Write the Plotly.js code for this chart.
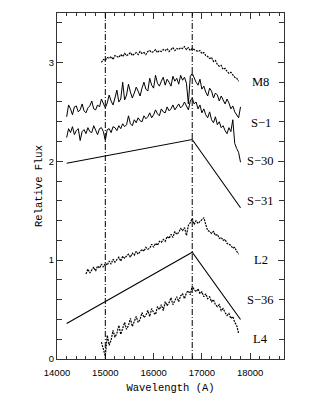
<!DOCTYPE html>
<html>
<head>
<meta charset="utf-8">
<script src="https://cdn.plot.ly/plotly-3.0.1.min.js"></script>
<style>
  html, body { margin: 0; padding: 0; background: white; }
  #spectra { width: 322px; height: 416px; }
</style>
</head>
<body>
<div id="spectra"></div>
<script>
// Spectra (Relative Flux, offset), sampled every 40 A from their start wavelength
var step = 40;

var m8Start = 14920;
var m8Flux = [
  3.00, 3.03, 3.02, 3.05, 3.04, 3.06, 3.03, 3.07, 3.06, 3.05,
  3.08, 3.06, 3.09, 3.07, 3.08, 3.10, 3.07, 3.09, 3.10, 3.08,
  3.11, 3.09, 3.10, 3.08, 3.11, 3.12, 3.10, 3.11, 3.13, 3.10,
  3.12, 3.11, 3.13, 3.12, 3.14, 3.11, 3.13, 3.15, 3.12, 3.14,
  3.13, 3.15, 3.14, 3.16, 3.13, 3.15, 3.12, 3.14, 3.13, 3.12,
  3.11, 3.12, 3.09, 3.10, 3.07, 3.06, 3.04, 3.05, 3.01, 3.02,
  2.98, 2.96, 2.97, 2.93, 2.94, 2.91, 2.89, 2.90, 2.87, 2.85,
  2.84, 2.81
];

var s1Start = 14200;
var s1Flux = [
  2.45, 2.57, 2.53, 2.47, 2.55, 2.56, 2.50, 2.52, 2.58, 2.51,
  2.49, 2.54, 2.56, 2.61, 2.53, 2.52, 2.57, 2.55, 2.63, 2.58,
  2.54, 2.59, 2.67, 2.61, 2.57, 2.64, 2.72, 2.60, 2.63, 2.80,
  2.62, 2.67, 2.78, 2.70, 2.64, 2.69, 2.75, 2.71, 2.66, 2.74,
  2.80, 2.73, 2.71, 2.84, 2.77, 2.74, 2.87, 2.79, 2.76, 2.81,
  2.85, 2.77, 2.83, 2.80, 2.76, 2.86, 2.81, 2.84, 2.78, 2.87,
  2.82, 2.85, 2.79, 2.58, 2.86, 2.89, 2.84, 2.80, 2.77, 2.83,
  2.73, 2.76, 2.70, 2.66, 2.74, 2.71, 2.64, 2.69, 2.67, 2.61,
  2.66, 2.62, 2.58, 2.63, 2.59, 2.53, 2.56, 2.50, 2.47, 2.44,
  2.55
];

var s30Start = 14200;
var s30Flux = [
  2.24, 2.33, 2.29, 2.35, 2.27, 2.31, 2.33, 2.21, 2.30, 2.32,
  2.28, 2.34, 2.30, 2.29, 2.36, 2.31, 2.27, 2.33, 2.34, 2.30,
  2.21, 2.32, 2.33, 2.29, 2.35, 2.34, 2.31, 2.36, 2.33, 2.38,
  2.35, 2.37, 2.46, 2.38, 2.36, 2.42, 2.39, 2.44, 2.41, 2.40,
  2.46, 2.43, 2.45, 2.49, 2.44, 2.47, 2.52, 2.48, 2.46, 2.53,
  2.50, 2.49, 2.55, 2.51, 2.53, 2.57, 2.52, 2.55, 2.58, 2.54,
  2.56, 2.60, 2.55, 2.52, 2.61, 2.64, 2.58, 2.60, 2.53, 2.57,
  2.49, 2.53, 2.47, 2.44, 2.50, 2.42, 2.39, 2.45, 2.37, 2.40,
  2.34, 2.36, 2.31, 2.28, 2.34, 2.30, 2.42, 2.18, 2.13, 2.09,
  1.99
];

var l2Start = 14600;
var l2Flux = [
  0.86, 0.91, 0.87, 0.90, 0.93, 0.89, 0.94, 0.92, 0.96, 0.93,
  0.97, 0.95, 0.99, 0.96, 1.01, 0.98, 1.00, 1.03, 0.99, 1.04,
  1.02, 1.04, 1.06, 1.03, 1.07, 1.05, 1.09, 1.06, 1.08, 1.11,
  1.09, 1.13, 1.11, 1.12, 1.16, 1.13, 1.17, 1.15, 1.19, 1.18,
  1.21, 1.19, 1.24, 1.22, 1.26, 1.23, 1.29, 1.26, 1.28, 1.32,
  1.30, 1.33, 1.25, 1.35, 1.38, 1.42, 1.36, 1.40, 1.37, 1.39,
  1.41, 1.43, 1.36, 1.30, 1.29, 1.27, 1.29, 1.25, 1.26, 1.22,
  1.23, 1.20, 1.21, 1.17, 1.16, 1.15, 1.12, 1.13, 1.09, 1.06
];

var l4Start = 14920;
var l4Flux = [
  0.17, 0.10, 0.03, 0.24, 0.14, 0.19, 0.29, 0.22, 0.26, 0.34,
  0.25, 0.31, 0.37, 0.30, 0.34, 0.41, 0.33, 0.38, 0.43, 0.37,
  0.40, 0.47, 0.42, 0.44, 0.49, 0.43, 0.51, 0.47, 0.45, 0.53,
  0.50, 0.55, 0.49, 0.58, 0.54, 0.57, 0.62, 0.55, 0.60, 0.63,
  0.58, 0.64, 0.66, 0.61, 0.67, 0.69, 0.65, 0.74, 0.70, 0.68,
  0.71, 0.66, 0.68, 0.63, 0.66, 0.61, 0.63, 0.58, 0.60, 0.55,
  0.53, 0.55, 0.49, 0.51, 0.47, 0.44, 0.46, 0.41, 0.43, 0.37,
  0.34, 0.26
];

// Model broken-line spectra
var modelWave = [14200, 16800, 17800];
var s31Flux = [1.98, 2.22, 1.53];
var s36Flux = [0.36, 1.08, 0.40];

// Vertical reference wavelengths
var refWave = [15000, 16800];

// Right-hand labels
var labelNames = ['M8', 'S\u22121', 'S\u221230', 'S\u221231', 'L2', 'S\u221236', 'L4'];
var labelFlux = [2.80, 2.39, 2.00, 1.60, 1.00, 0.60, 0.20];
var labelWave = 18220;

function sampled(start, flux, dash, width) {
    return {
        x0: start, dx: step, y: flux,
        type: 'scatter', mode: 'lines',
        line: { color: 'black', width: width, dash: dash },
        hoverinfo: 'skip', showlegend: false
    };
}

function broken(flux) {
    return {
        x: modelWave, y: flux,
        type: 'scatter', mode: 'lines',
        line: { color: 'black', width: 1.1 },
        hoverinfo: 'skip', showlegend: false
    };
}

var traces = [
    sampled(m8Start, m8Flux, '2px,1px', 1.2),
    sampled(s1Start, s1Flux, 'solid', 1),
    sampled(s30Start, s30Flux, 'solid', 1),
    broken(s31Flux),
    sampled(l2Start, l2Flux, '2px,1px', 1.2),
    broken(s36Flux),
    sampled(l4Start, l4Flux, '2px,1px', 1.2)
];

var shapes = refWave.map(function(w) {
    return {
        type: 'line', xref: 'x', yref: 'paper',
        x0: w, x1: w, y0: 0, y1: 1,
        line: { color: 'black', width: 1, dash: '6px,2px,1px,2px' }
    };
});

var annotations = labelNames.map(function(name, i) {
    return {
        x: labelWave, y: labelFlux[i], xref: 'x', yref: 'y',
        text: name, showarrow: false,
        xanchor: 'center', yanchor: 'middle',
        font: { family: 'Liberation Serif, serif', size: 12.5, color: 'black' }
    };
});

var axisCommon = {
    showgrid: false, zeroline: false,
    showline: true, linecolor: '#333', linewidth: 1,
    mirror: 'ticks', ticks: 'inside', ticklen: 6, tickwidth: 1, tickcolor: '#333',
    tickfont: { family: 'Liberation Sans, Arial, sans-serif', size: 9.5, color: 'black' }
};

var layout = {
    width: 322, height: 416,
    margin: { l: 57, r: 38, t: 13, b: 57 },
    paper_bgcolor: 'white', plot_bgcolor: 'white',
    xaxis: Object.assign({}, axisCommon, {
        range: [14000, 18700], dtick: 1000, tick0: 14000, tickformat: 'd',
        ticklabelstandoff: 5,
        minor: { ticks: 'inside', dtick: 200, ticklen: 3, tickcolor: '#333' },
        title: { text: 'Wavelength (A)', standoff: 6,
                 font: { family: 'Liberation Mono, monospace', size: 10.5, color: 'black' } }
    }),
    yaxis: Object.assign({}, axisCommon, {
        range: [0, 3.5], dtick: 1, tick0: 0,
        minor: { ticks: 'inside', dtick: 0.2, ticklen: 5, tickcolor: '#333' },
        title: { text: 'Relative Flux', standoff: 4,
                 font: { family: 'Liberation Mono, monospace', size: 10.5, color: 'black' } }
    }),
    shapes: shapes,
    annotations: annotations
};

Plotly.newPlot('spectra', traces, layout, { staticPlot: true, responsive: false });
</script>
</body>
</html>
